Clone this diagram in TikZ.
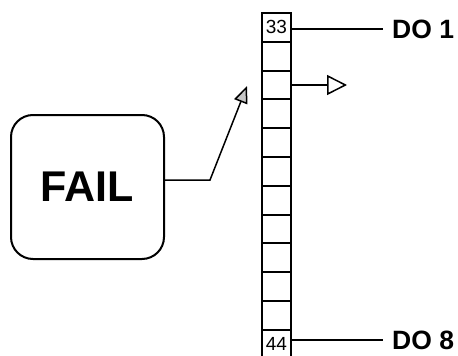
\documentclass[tikz,border=0pt]{standalone}
\usepackage{fontspec}
\setmainfont{Liberation Sans}
\usetikzlibrary{arrows.meta,positioning}
\begin{document}
\begin{tikzpicture}[x=1pt,y=-1pt,
    cellbox/.style={draw, line width=1.9pt, minimum width=29pt, minimum height=28.8pt,
      inner sep=0pt, outer sep=0pt},
    cellnum/.style={inner sep=0pt, font=\fontsize{19}{19}\selectfont},
    failbox/.style={draw, line width=2pt, rounded corners=22pt, minimum width=153pt,
      minimum height=144pt, inner sep=0pt, font=\bfseries\fontsize{43}{43}\selectfont},
    outlabel/.style={anchor=west, inner xsep=9pt, inner ysep=0pt, font=\bfseries\fontsize{26.5}{26.5}\selectfont},
    wire/.style={line width=1.5pt}]
  \useasboundingbox (0,0) rectangle (458,356);
  \clip (0,0) rectangle (458,356);

  % colonne de 12 cases (33 en haut, 44 en bas)
  \foreach \i in {0,...,11}
    \node[cellbox] (c\i) at (276.5, 27.4+28.8*\i) {};
  \node[cellnum] at (c0) {33};
  \node[cellnum] at (c11) {44};

  % sorties DO 1 et DO 8
  \node[outlabel] (do1) at (383, 29) {DO 1};
  \node[outlabel] (do8) at (383, 340) {DO 8};
  \draw[wire] (c0.east |- do1.west) -- (do1.west);
  \draw[wire] (c11.east |- do8.west) -- (do8.west);

  % fleche ouverte depuis la troisieme case
  \coordinate (out) at (347, 85);
  \draw[wire, -{Triangle[open, length=20pt, width=20pt, line width=1.5pt]}] (c2.east |- out) -- (out);

  % boite FAIL et sa liaison
  \node[failbox] (fail) at (87.5, 187) {FAIL};
  \coordinate (bend) at (210, 180);
  \coordinate (tip) at (247, 86);
  \draw[wire, -{Triangle[fill=gray!45, length=17pt, width=14pt, line width=1.5pt]}]
    ([yshift=7pt]fail.east) -- (bend) -- (tip);
\end{tikzpicture}
\end{document}
